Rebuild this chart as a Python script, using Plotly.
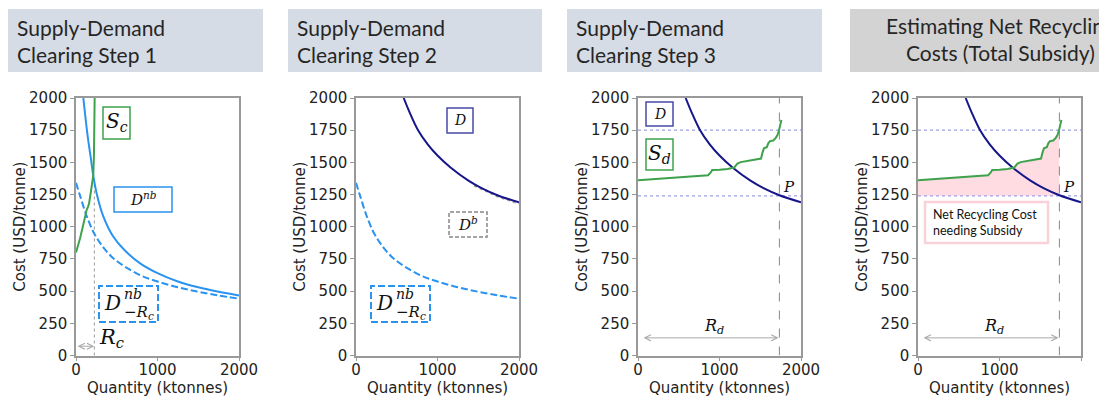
import plotly.graph_objects as go

W, H = 1099, 396

# ---------------- data ----------------
# Panel 1/2: non-bottle demand D^nb and shifted demand D^nb_{-Rc}
QTY_DNB = [90, 140, 180, 215, 260, 335, 450, 600, 800, 1000, 1250, 1500, 1750, 2000]
COST_DNB = [2000, 1720, 1540, 1385, 1240, 1080, 930, 815, 710, 640, 575, 530, 495, 466]
QTY_DNB_SHIFT = [0, 50, 130, 225, 335, 450, 600, 800, 1000, 1250, 1500, 1750, 2000]
COST_DNB_SHIFT = [1342, 1240, 1085, 945, 840, 760, 690, 620, 575, 530, 495, 466, 441]
# Collection supply S_c
QTY_SC = [0, 25, 50, 80, 110, 130, 145, 160, 180, 200, 212, 220, 225, 229]
COST_SC = [800, 850, 910, 990, 1080, 1130, 1150, 1180, 1260, 1340, 1400, 1550, 1750, 2000]
# Total demand D and bottle demand D^b
QTY_D = [585, 650, 760, 880, 1000, 1160, 1380, 1540, 1735, 2000]
COST_D = [2000, 1900, 1752, 1640, 1553, 1460, 1358, 1300, 1245, 1190]
QTY_DB = [1450, 1600, 1750, 1900, 2000]
COST_DB = [1322, 1278, 1234, 1203, 1182]
# Recycling supply S_d
QTY_SD = [0, 200, 400, 560, 700, 860, 890, 910, 1000, 1100, 1180, 1220, 1260, 1350, 1450,
          1510, 1525, 1545, 1580, 1600, 1620, 1660, 1690, 1710, 1730, 1745, 1760]
COST_SD = [1362, 1372, 1380, 1390, 1394, 1400, 1420, 1440, 1442, 1448, 1460, 1490, 1502, 1512, 1522,
           1530, 1570, 1610, 1618, 1650, 1665, 1670, 1690, 1710, 1750, 1790, 1830]
R_C = 225
R_D = 1735
PRICE_P = 1240
PRICE_TOP = 1750

X_TICKS = [0, 1000, 2000]
Y_TICKS = [0, 250, 500, 750, 1000, 1250, 1500, 1750, 2000]

TITLES = ["Supply-Demand<br>Clearing Step 1", "Supply-Demand<br>Clearing Step 2",
          "Supply-Demand<br>Clearing Step 3", "Estimating Net Recycling<br>Costs (Total Subsidy)"]

# ---------------- styling ----------------
BLUE = "#2a93f0"
NAVY = "#16168a"
GREEN = "#3ea24c"
GRAY = "#999999"
HLINE = "#a0a0e8"
PINK = "#ffdce2"
MATH = "DejaVu Serif"
SANS = "DejaVu Sans"
TITLEF = "Lato"


def px(x):
    return x / W


def py(y):
    return 1 - y / H


panels = [(76, 239), (356, 519), (638, 801), (918, 1081)]
ytop, ybot = 98, 355.5

fig = go.Figure()

layout = dict(width=W, height=H, margin=dict(l=0, r=0, t=0, b=0, pad=0, autoexpand=False),
              paper_bgcolor="white", plot_bgcolor="white", showlegend=False)

for i, (x0, x1) in enumerate(panels):
    n = "" if i == 0 else str(i + 1)
    layout["xaxis" + n] = dict(domain=[px(x0), px(x1)], range=[0, 2000], anchor="y" + n,
                               tickvals=X_TICKS, ticks="outside", ticklen=4, tickcolor=GRAY,
                               ticklabelstandoff=-4,
                               showline=True, linecolor=GRAY, linewidth=1.5, mirror=True,
                               showgrid=False, zeroline=False, automargin=False,
                               tickfont=dict(family=SANS, size=15, color="#222"))
    layout["yaxis" + n] = dict(domain=[py(ybot), py(ytop)], range=[0, 2000], anchor="x" + n,
                               tickvals=Y_TICKS, ticks="outside", ticklen=4, tickcolor=GRAY,
                               showline=True, linecolor=GRAY, linewidth=1.5, mirror=True,
                               showgrid=False, zeroline=False, automargin=False,
                               tickfont=dict(family=SANS, size=15, color="#222"))

fig.update_layout(**layout)


def ax(i):
    n = "" if i == 0 else str(i + 1)
    return "x" + n, "y" + n


def line(i, x, y, color, width=2, dash="solid", shape="spline", **kw):
    xa, ya = ax(i)
    fig.add_trace(go.Scatter(x=x, y=y, mode="lines", xaxis=xa, yaxis=ya,
                             line=dict(color=color, width=width, dash=dash, shape=shape),
                             hoverinfo="skip", **kw))


DASH = "7px,3px"

# ---- Panel 1 ----
line(0, [R_C, R_C], [0, 1385], "#999999", width=1, dash="dot", shape="linear")
line(0, QTY_DNB_SHIFT, COST_DNB_SHIFT, BLUE, dash=DASH)
line(0, QTY_DNB, COST_DNB, BLUE)
line(0, QTY_SC, COST_SC, GREEN, shape="linear")

# ---- Panel 2 ----
line(1, QTY_DNB_SHIFT, COST_DNB_SHIFT, BLUE, dash=DASH)
line(1, QTY_DB, COST_DB, "#9a9a9a", width=2.5, dash="dot")
line(1, QTY_D, COST_D, NAVY)

# ---- Panel 3 & 4 ----
for i in (2, 3):
    if i == 3:
        sd_x = [q for q in QTY_SD if q <= R_D]
        sd_y = COST_SD[:len(sd_x)]
        line(i, [0, R_D], [PRICE_P, PRICE_P], "rgba(0,0,0,0)", width=0, shape="linear")
        xa, ya = ax(i)
        fig.add_trace(go.Scatter(x=sd_x, y=sd_y, mode="lines", xaxis=xa, yaxis=ya,
                                 line=dict(width=0, color="rgba(0,0,0,0)"),
                                 fill="tonexty", fillcolor=PINK, hoverinfo="skip"))
    line(i, [0, 2000], [PRICE_TOP, PRICE_TOP], HLINE, width=1.2, dash="dot", shape="linear")
    line(i, [0, 2000], [PRICE_P, PRICE_P], HLINE, width=1.2, dash="dot", shape="linear")
    line(i, [R_D, R_D], [0, 2000], "#888888", width=1, dash="dash", shape="linear")
    line(i, QTY_D, COST_D, NAVY)
    line(i, QTY_SD, COST_SD, GREEN, shape="linear")

shapes = []
annotations = []


def box(x0, y0, x1, y1, color, dash="solid", width=1.5):
    shapes.append(dict(type="rect", xref="paper", yref="paper",
                       x0=px(x0), x1=px(x1), y0=py(y1), y1=py(y0),
                       line=dict(color=color, width=width, dash=dash), fillcolor="white", layer="above"))


def text(x, y, t, size, family=MATH, color="#111", xanchor="center", align="center", pad=1):
    annotations.append(dict(xref="paper", yref="paper", x=px(x), y=py(y), text=t,
                            showarrow=False, xanchor=xanchor, yanchor="middle", align=align,
                            borderpad=pad,
                            font=dict(family=family, size=size, color=color)))


# title boxes
title_boxes = [(8, 263, "#d6dce5"), (288, 542, "#d6dce5"), (567, 822, "#d6dce5"), (850, 1110, "#d3d3d3")]
for (b0, b1, c), t in zip(title_boxes, TITLES):
    shapes.append(dict(type="rect", xref="paper", yref="paper", x0=px(b0), x1=px(b1),
                       y0=py(72), y1=py(9), line=dict(width=0), fillcolor=c, layer="below"))
for k, t in enumerate(TITLES[:3]):
    text(title_boxes[k][0] + 7, 41, t, 21, family=TITLEF, color="#262626", xanchor="left", align="left")
text(1000, 39, TITLES[3], 21, family=TITLEF, color="#262626")

# axis titles
for i, (x0, x1) in enumerate(panels):
    text((x0 + x1) / 2, 388, "Quantity (ktonnes)", 15, family=SANS, color="#222")
    annotations.append(dict(xref="paper", yref="paper", x=px(x0 - 56), y=py((ytop + ybot) / 2),
                            text="Cost (USD/tonne)", showarrow=False, textangle=-90,
                            xanchor="center", yanchor="middle",
                            font=dict(family=SANS, size=15, color="#222")))

# Panel 1 labels
box(103, 107, 130, 139, GREEN)
text(116.5, 122, "<i>S</i><sub><i>c</i></sub>", 20)
box(114, 187, 172, 212, BLUE)
text(143, 199, "<i>D</i><sup><i>nb</i></sup>", 15)
for bx in (99, 371):
    box(bx, 286, bx + 59, 322, BLUE, dash=DASH, width=2)
    text(bx + 23, 303, "<i>D</i>", 20, xanchor="right", pad=0)
    text(bx + 24, 294, "<i>nb</i>", 14, xanchor="left", pad=0)
    text(bx + 24, 312, "−<i>R</i><sub><i>c</i></sub>", 15, xanchor="left", pad=0)
text(111, 338, "<i>R</i><sub><i>c</i></sub>", 21)

# Panel 2 labels
box(447, 108, 473, 133, "#4a4aa8")
text(460, 120, "<i>D</i>", 14)
box(449, 212, 487, 237, "#888888", dash="4px,2px")
text(468, 224, "<i>D</i><sup><i>b</i></sup>", 15)

# Panel 3 labels
box(646, 102, 673, 126, "#4a4aa8")
text(659.5, 114, "<i>D</i>", 14)
box(646, 139, 673, 170, GREEN)
text(659.5, 154, "<i>S</i><sub><i>d</i></sub>", 20)

# Panel 4 box
box(925, 202, 1048, 243, "#f9d2d9", width=2.5)
text(931, 222.5, "Net Recycling Cost<br>needing Subsidy", 12.5, family=TITLEF, color="#111",
     xanchor="left", align="left")

for i in (2, 3):
    x0 = panels[i][0]
    text(x0 + 151, 187, "<i>P</i>", 15)
    text(x0 + 76, 326, "<i>R</i><sub><i>d</i></sub>", 16)

# arrows
arrow_specs = [(0, 0, R_C, 72), (2, 50, 1725, 137), (3, 50, 1725, 137)]
for i, a0, a1, yv in arrow_specs:
    xa, ya = ax(i)
    annotations.append(dict(xref=xa, yref=ya, axref=xa, ayref=ya, x=a1, y=yv, ax=a0, ay=yv,
                            text="", showarrow=True, arrowside="end+start", arrowhead=5,
                            startarrowhead=5, arrowsize=1.2, startarrowsize=1.2,
                            arrowwidth=1, arrowcolor="#aaaaaa"))

fig.update_layout(shapes=shapes, annotations=annotations)
fig.write_html("out.html", config={"responsive": False},
               post_script="document.body.style.margin='0';document.body.style.overflow='hidden';")
